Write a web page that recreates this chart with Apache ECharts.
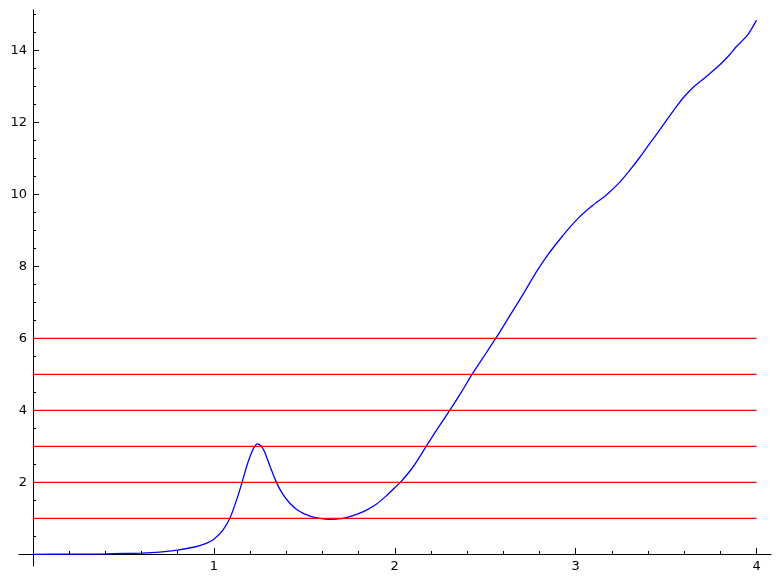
<!DOCTYPE html>
<html>
<head>
<meta charset="utf-8">
<script src="https://cdn.jsdelivr.net/npm/echarts@6/dist/echarts.min.js"></script>
<style>
html,body{margin:0;padding:0;background:#fff;}
#chart{width:781px;height:584px;}
</style>
</head>
<body>
<div id="chart"></div>
<script>
// curve samples (x, y)
const curveX = [0, 0.2, 0.4, 0.6, 0.7, 0.8, 0.9, 0.95, 1.0, 1.05, 1.088, 1.125, 1.156, 1.18, 1.2, 1.22, 1.239, 1.26, 1.282, 1.31, 1.346, 1.38, 1.42, 1.46, 1.494, 1.54, 1.586, 1.64, 1.7, 1.751, 1.8, 1.844, 1.9, 1.95, 2.0, 2.031, 2.1, 2.174, 2.24, 2.304, 2.37, 2.427, 2.49, 2.558, 2.626, 2.7, 2.783, 2.85, 2.912, 2.97, 3.022, 3.08, 3.12, 3.17, 3.243, 3.3, 3.354, 3.41, 3.464, 3.51, 3.556, 3.6, 3.648, 3.72, 3.796, 3.85, 3.888, 3.95, 4.0];
const curveY = [0.0, 0.003, 0.012, 0.035, 0.06, 0.115, 0.21, 0.29, 0.42, 0.67, 1.0, 1.5, 2.0, 2.42, 2.72, 2.95, 3.07, 3.02, 2.83, 2.45, 2.0, 1.68, 1.42, 1.24, 1.14, 1.05, 1.0, 0.975, 0.99, 1.05, 1.13, 1.23, 1.40, 1.61, 1.85, 2.0, 2.42, 3.0, 3.52, 4.0, 4.52, 5.0, 5.48, 6.0, 6.55, 7.15, 7.85, 8.35, 8.75, 9.1, 9.38, 9.64, 9.8, 9.99, 10.34, 10.68, 11.03, 11.42, 11.79, 12.12, 12.44, 12.72, 12.97, 13.27, 13.6, 13.88, 14.11, 14.43, 14.85];
// horizontal reference levels
const levels = [1, 2, 3, 4, 5, 6];
const levelSpan = [0, 4];
// tick labels
const xTicks = [1, 2, 3, 4];
const yTicks = [2, 4, 6, 8, 10, 12, 14];

const chart = echarts.init(document.getElementById('chart'), null, {renderer: 'canvas'});
const font = 'DejaVu Sans';
const series = [{
  type: 'line',
  data: curveX.map((x, i) => [x, curveY[i]]),
  showSymbol: false,
  smooth: 0.25,
  lineStyle: {color: '#0000ff', width: 1.3},
  z: 2
}];
levels.forEach(v => {
  series.push({
    type: 'line',
    data: levelSpan.map(x => [x, v]),
    showSymbol: false,
    lineStyle: {color: '#ff0000', width: 1.3},
    z: 3
  });
});

chart.setOption({
  animation: false,
  backgroundColor: '#ffffff',
  grid: {left: 19, right: 10, top: 10, bottom: 18, containLabel: false, outerBoundsMode: 'none'},
  xAxis: {
    type: 'value',
    position: 'bottom',
    offset: -12,
    min: -0.0773, max: 4.08,
    minInterval: 1, maxInterval: 1,
    axisLine: {onZero: false, lineStyle: {color: '#000', width: 1}},
    axisTick: {show: true, inside: true, length: 6, customValues: xTicks, lineStyle: {color: '#000', width: 1}},
    minorTick: {show: true, splitNumber: 5, length: 3, lineStyle: {color: '#000', width: 1}},
    axisLabel: {customValues: xTicks, margin: 6, color: '#000', fontFamily: font, fontSize: 13},
    splitLine: {show: false}
  },
  yAxis: {
    type: 'value',
    position: 'left',
    offset: -14,
    min: -0.325, max: 15.13,
    minInterval: 2, maxInterval: 2,
    axisLine: {onZero: false, lineStyle: {color: '#000', width: 1}},
    axisTick: {show: true, inside: true, length: 6, customValues: yTicks, lineStyle: {color: '#000', width: 1}},
    minorTick: {show: true, splitNumber: 4, length: 3, lineStyle: {color: '#000', width: 1}},
    axisLabel: {customValues: yTicks, margin: 6, color: '#000', fontFamily: font, fontSize: 13},
    splitLine: {show: false}
  },
  series: series
});
</script>
</body>
</html>
